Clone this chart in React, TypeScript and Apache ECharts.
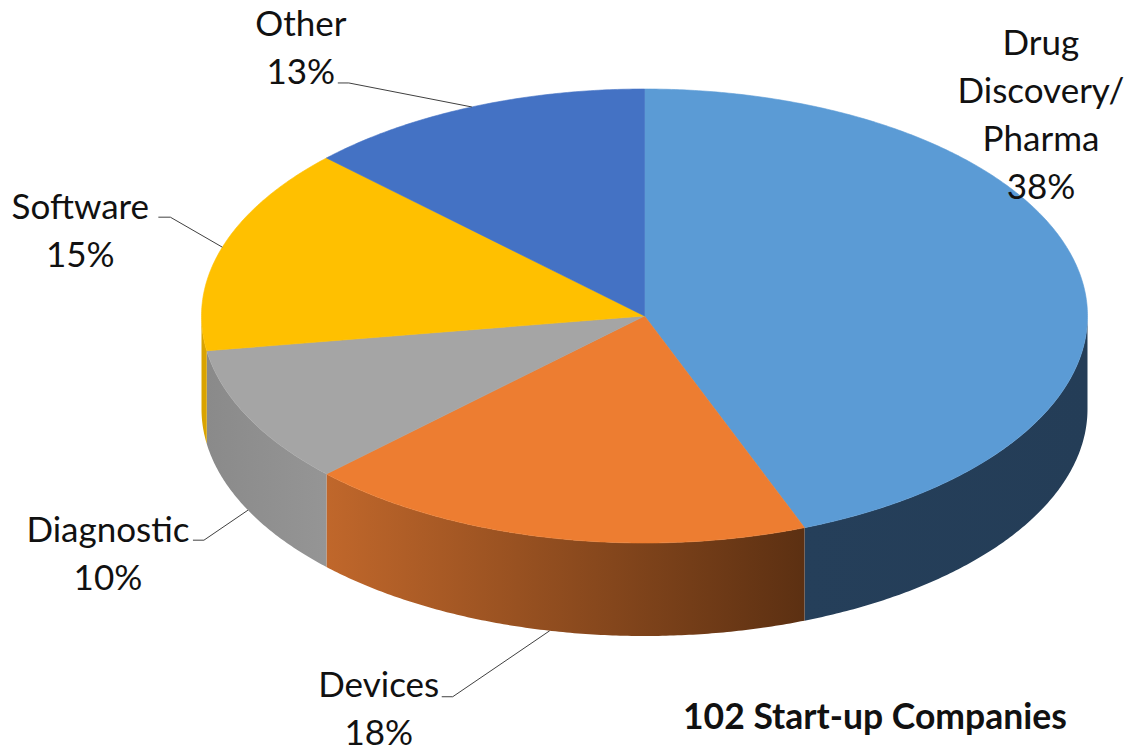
import React, { useEffect, useRef } from "react";
import * as echarts from "echarts";

// ---- data ----
const categories = ["Drug\nDiscovery/\nPharma", "Devices", "Diagnostic", "Software", "Other"];
const companies = [45, 19, 10, 15, 13]; // 102 start-up companies
const labelPercents = ["38%", "18%", "10%", "15%", "13%"];
const chartTitle = "102 Start-up Companies";

// ---- styles ----
const topColors = ["#5B9BD5", "#ED7D31", "#A5A5A5", "#FFC000", "#4472C4"];
const wallColors = [
  ["#253F5A", "#243D57"],
  ["#C0672B", "#5C3012"],
  ["#8A8A8A", "#959595"],
  ["#D9A300", "#D9A300"],
  ["#2F5597", "#2F5597"],
];

// ---- layout ----
const CX = 644.5;
const CY = 316;
const RX = 443;
const RY = 227;
const DEPTH = 93;
const FONT_SIZE = 35;
const TITLE_SIZE = 35.5;
const LINE_H = 48;
// label offsets relative to the slice anchor (tx: text centre x, ty: first baseline)
const labelLayout = [
  { tx: -39, ty: -221, elbow: null as null | number[], end: null as null | number[] },
  { tx: -171, ty: 65, elbow: [-97, 66], end: [-108, 66] },
  { tx: -140, ty: 30, elbow: [-44, 30], end: [-55, 30] },
  { tx: -142, ty: -30, elbow: [-52, -30], end: [-64, -30] },
  { tx: -171, ty: -72, elbow: [-123, -24], end: [-134, -24] },
];

const total = companies.reduce((a, b) => a + b, 0);
const starts: number[] = [];
companies.reduce((acc, v) => {
  starts.push((acc / total) * 360);
  return acc + v;
}, 0);

const rad = (d: number) => (d * Math.PI) / 180;
const pt = (deg: number, dy = 0): number[] => [
  CX + RX * Math.sin(rad(deg)),
  CY - RY * Math.cos(rad(deg)) + dy,
];
const arc = (a1: number, a2: number, dy = 0): number[][] => {
  const pts: number[][] = [];
  const n = Math.max(2, Math.ceil((a2 - a1) / 0.5));
  for (let k = 0; k <= n; k++) pts.push(pt(a1 + ((a2 - a1) * k) / n, dy));
  return pts;
};

export default function App() {
  const ref = useRef<HTMLDivElement>(null);
  useEffect(() => {
    document.body.style.margin = "0";
    if (!ref.current) return;
    const chart = echarts.init(ref.current, undefined, { renderer: "svg" });
    const option: any = {
      animation: false,
      backgroundColor: "#ffffff",
      title: {
        text: chartTitle,
        left: 683,
        top: 697,
        padding: 0,
        textStyle: {
          fontFamily: "Lato",
          fontWeight: "bold",
          fontSize: TITLE_SIZE,
          color: "#111111",
        },
      },
      series: [
        {
          type: "custom",
          coordinateSystem: "none",
          silent: true,
          data: companies.map((v, i) => ({ name: categories[i], value: [v] })),
          renderItem: (params: any, api: any) => {
            const i = params.dataIndex;
            const v = api.value(0);
            const a1 = starts[i];
            const a2 = a1 + (v / total) * 360;
            const children: any[] = [];
            // outer wall (front half only)
            const w1 = Math.max(a1, 90);
            const w2 = Math.min(a2, 270);
            if (w2 > w1) {
              const topArc = arc(w1, w2);
              const botArc = arc(w1, w2, DEPTH).reverse();
              children.push({
                type: "polygon",
                shape: { points: topArc.concat(botArc) },
                style: {
                  fill: new echarts.graphic.LinearGradient(0, 0, 1, 0, [
                    { offset: 0, color: wallColors[i][0] },
                    { offset: 1, color: wallColors[i][1] },
                  ]),
                },
              });
            }
            // top face
            children.push({
              type: "polygon",
              shape: { points: [[CX, CY]].concat(arc(a1, a2)) },
              style: { fill: topColors[i], stroke: topColors[i], lineWidth: 0.6 },
            });
            // label anchor
            const mid = (a1 + a2) / 2;
            const front = mid > 90 && mid < 270;
            const anchor = pt(mid, front ? DEPTH : 0);
            const lay = labelLayout[i];
            if (lay.elbow && lay.end) {
              children.push({
                type: "polyline",
                shape: {
                  points: [
                    anchor,
                    [anchor[0] + lay.elbow[0], anchor[1] + lay.elbow[1]],
                    [anchor[0] + lay.end[0], anchor[1] + lay.end[1]],
                  ],
                },
                style: { stroke: "#404040", lineWidth: 1, fill: "none" },
                z2: 5,
              });
            }
            const lines = (categories[i] + "\n" + labelPercents[i]).split("\n");
            const firstCenter = anchor[1] + lay.ty - 12.5;
            lines.forEach((ln, k) => {
              children.push({
                type: "text",
                x: anchor[0] + lay.tx,
                y: firstCenter + k * LINE_H,
                z2: 10,
                style: {
                  text: ln,
                  fontFamily: "Lato",
                  fontSize: FONT_SIZE,
                  lineHeight: FONT_SIZE,
                  fill: "#111111",
                  align: "center",
                  verticalAlign: "middle",
                },
              });
            });
            return { type: "group", children };
          },
        },
      ],
    };
    chart.setOption(option);
    return () => chart.dispose();
  }, []);
  return (
    <div
      ref={ref}
      style={{ position: "fixed", left: 0, top: 0, width: 1128, height: 754 }}
    />
  );
}
